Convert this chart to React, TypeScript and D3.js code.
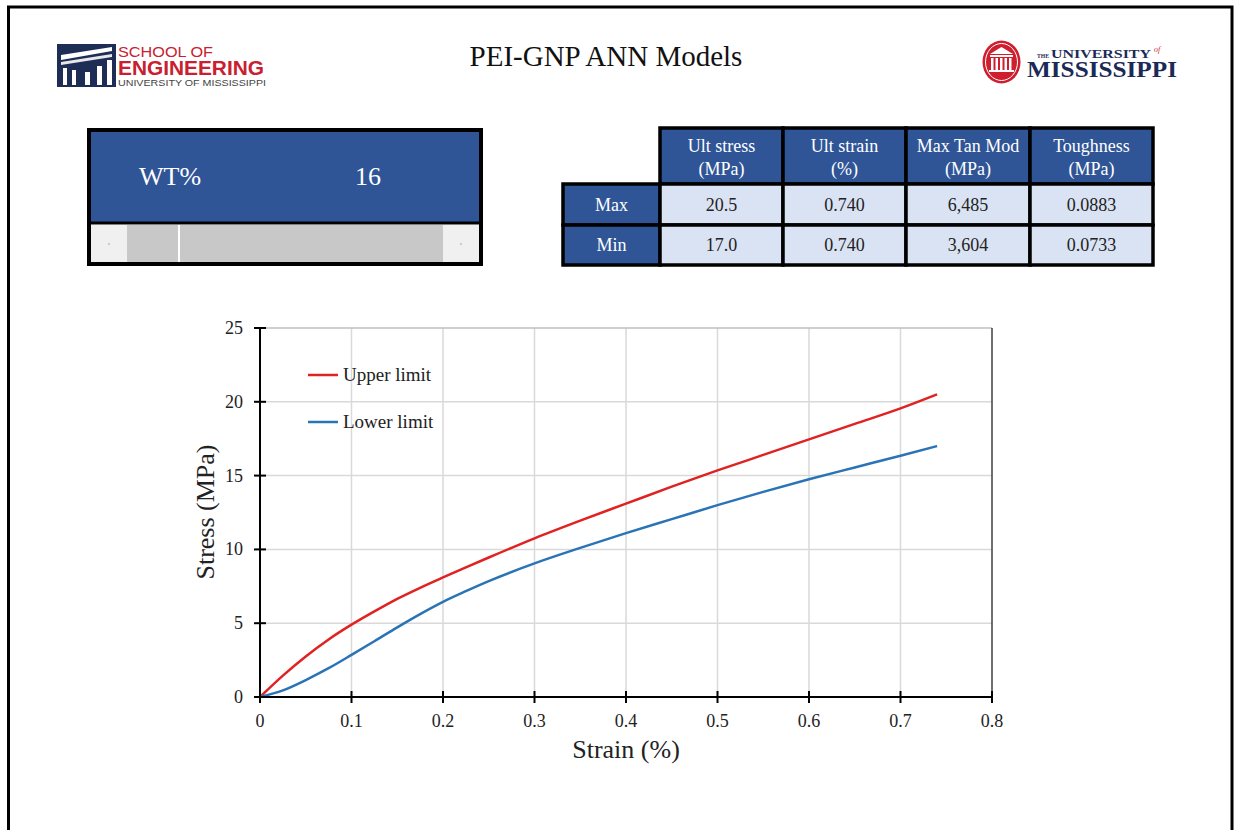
import React from "react";
import * as d3 from "d3";

// ---------- data ----------
const strain = [0, 0.025, 0.05, 0.075, 0.1, 0.125, 0.15, 0.175, 0.2, 0.225, 0.25, 0.3, 0.35, 0.4, 0.45, 0.5, 0.55, 0.6, 0.65, 0.7, 0.74];
const upperStress = [0, 1.45, 2.75, 3.9, 4.9, 5.8, 6.65, 7.4, 8.1, 8.78, 9.45, 10.75, 11.95, 13.1, 14.25, 15.35, 16.4, 17.45, 18.5, 19.55, 20.5];
const lowerStress = [0, 0.45, 1.15, 1.95, 2.85, 3.78, 4.72, 5.62, 6.45, 7.17, 7.85, 9.05, 10.1, 11.1, 12.05, 13.0, 13.9, 14.75, 15.55, 16.35, 17.0];
const seriesNames = ["Upper limit", "Lower limit"];
const xTicks = [0, 0.1, 0.2, 0.3, 0.4, 0.5, 0.6, 0.7, 0.8];
const yTicks = [0, 5, 10, 15, 20, 25];

const tableHeaders = [["Ult stress", "(MPa)"], ["Ult strain", "(%)"], ["Max Tan Mod", "(MPa)"], ["Toughness", "(MPa)"]];
const rowLabels = ["Max", "Min"];
const maxRow = ["20.5", "0.740", "6,485", "0.0883"];
const minRow = ["17.0", "0.740", "3,604", "0.0733"];
const wtLabel = "WT%";
const wtValue = "16";
const title = "PEI-GNP ANN Models";

// ---------- style ----------
const SERIF = "'Liberation Serif', 'Times New Roman', serif";
const SANS = "'Liberation Sans', Arial, sans-serif";
const BLUE_BG = "#2f5597";
const CELL_BG = "#dae3f3";
const RED = "#e02222";
const BLUEL = "#2a74b6";
const NAVY = "#1b2a57";
const OLE_RED = "#cf1f2e";

export default function App() {
  const x = d3.scaleLinear().domain([0, 0.8]).range([260, 992]);
  const y = d3.scaleLinear().domain([0, 25]).range([697, 328]);
  const line = d3
    .line<number>()
    .x((_, i) => x(strain[i]))
    .y((d) => y(d))
    .curve(d3.curveMonotoneX);

  const colEdges = [660, 783, 906, 1030, 1153];
  const rowEdges = [128, 184, 225, 265];
  const labelLeft = 563;
  const rows = [maxRow, minRow];

  return (
    <svg
      width={1234}
      height={830}
      style={{ position: "absolute", left: 0, top: 0, display: "block", background: "#fff" }}
    >
      <rect x={0} y={0} width={1234} height={830} fill="#fff" />
      {/* page frame */}
      <path d="M8.5 830 V7 H1232 V830" fill="none" stroke="#000" strokeWidth={3} />

      {/* left logo */}
      <g>
        <rect x={57} y={44} width={59} height={43} fill="#1d2d55" />
        <polygon points="61,55 112,47 112,51 61,60" fill="#fff" />
        <polygon points="61,62 112,54 112,57 61,65" fill="#e8e8e8" />
        <rect x={63} y={68} width={4} height={17} fill="#fff" />
        <rect x={72} y={70} width={4} height={15} fill="#fff" />
        <rect x={85} y={72} width={5} height={13} fill="#fff" />
        <rect x={97} y={66} width={5} height={19} fill="#fff" />
        <rect x={107} y={60} width={5} height={25} fill="#fff" />
        <text x={118} y={57} fontFamily={SANS} fontSize={14} fill="#c8202f" textLength={95} lengthAdjust="spacingAndGlyphs">SCHOOL OF</text>
        <text x={118} y={75} fontFamily={SANS} fontSize={20} fontWeight="bold" fill="#c8202f" textLength={146} lengthAdjust="spacingAndGlyphs">ENGINEERING</text>
        <text x={118} y={86} fontFamily={SANS} fontSize={9} fill="#444" textLength={148} lengthAdjust="spacingAndGlyphs">UNIVERSITY OF MISSISSIPPI</text>
      </g>

      {/* title */}
      <text x={606} y={66} textAnchor="middle" fontFamily={SERIF} fontSize={29} fill="#111">{title}</text>

      {/* right logo */}
      <g>
        <ellipse cx={1001.5} cy={62} rx={19} ry={21.5} fill={OLE_RED} />
        <ellipse cx={1001.5} cy={62} rx={16} ry={18.5} fill="none" stroke="#fff" strokeWidth={1} />
        <polygon points="990,54 1001.5,47 1013,54" fill="#fff" />
        <rect x={990} y={55} width={23} height={2} fill="#fff" />
        {[991, 995.5, 1000, 1004.5, 1009].map((cx) => (
          <rect key={cx} x={cx} y={58} width={2.5} height={12} fill="#fff" />
        ))}
        <rect x={989} y={70} width={25} height={2} fill="#fff" />
        <text x={1037} y={57.5} fontFamily={SERIF} fontSize={6} fontWeight="bold" fill={NAVY} textLength={12} lengthAdjust="spacingAndGlyphs">THE</text>
        <text x={1051} y={57.5} fontFamily={SERIF} fontSize={13.5} fontWeight="bold" fill={NAVY} textLength={100} lengthAdjust="spacingAndGlyphs">UNIVERSITY</text>
        <text x={1154} y={52} fontFamily={SERIF} fontSize={8} fontStyle="italic" fill={OLE_RED}>of</text>
        <text x={1027} y={77} fontFamily={SERIF} fontSize={24} fontWeight="bold" fill={NAVY} textLength={150} lengthAdjust="spacingAndGlyphs">MISSISSIPPI</text>
      </g>

      {/* WT% control */}
      <g>
        <rect x={89} y={130} width={392} height={134} fill="#fff" stroke="#000" strokeWidth={4} />
        <rect x={91} y={132} width={388} height={90} fill={BLUE_BG} />
        <line x1={89} x2={481} y1={223} y2={223} stroke="#000" strokeWidth={3} />
        <rect x={91} y={225} width={36} height={37} fill="#f0f0f0" />
        <rect x={127} y={225} width={316} height={37} fill="#c8c8c8" />
        <rect x={443} y={225} width={36} height={37} fill="#f0f0f0" />
        <rect x={178} y={225} width={2} height={37} fill="#fff" />
        <circle cx={109} cy={244} r={0.8} fill="#999" />
        <circle cx={461} cy={244} r={0.8} fill="#999" />
        <text x={139} y={185} fontFamily={SERIF} fontSize={26} fill="#fff">{wtLabel}</text>
        <text x={368} y={185} textAnchor="middle" fontFamily={SERIF} fontSize={26} fill="#fff">{wtValue}</text>
      </g>

      {/* results table */}
      <g>
        {tableHeaders.map((h, i) => (
          <g key={"h" + i}>
            <rect x={colEdges[i]} y={rowEdges[0]} width={colEdges[i + 1] - colEdges[i]} height={rowEdges[1] - rowEdges[0]} fill={BLUE_BG} stroke="#000" strokeWidth={3.5} />
            <text x={(colEdges[i] + colEdges[i + 1]) / 2} y={152} textAnchor="middle" fontFamily={SERIF} fontSize={18} fill="#fff">{h[0]}</text>
            <text x={(colEdges[i] + colEdges[i + 1]) / 2} y={175} textAnchor="middle" fontFamily={SERIF} fontSize={18} fill="#fff">{h[1]}</text>
          </g>
        ))}
        {rows.map((r, ri) => (
          <g key={"r" + ri}>
            <rect x={labelLeft} y={rowEdges[ri + 1]} width={colEdges[0] - labelLeft} height={rowEdges[ri + 2] - rowEdges[ri + 1]} fill={BLUE_BG} stroke="#000" strokeWidth={3.5} />
            <text x={(labelLeft + colEdges[0]) / 2} y={(rowEdges[ri + 1] + rowEdges[ri + 2]) / 2 + 6} textAnchor="middle" fontFamily={SERIF} fontSize={18} fill="#fff">{rowLabels[ri]}</text>
            {r.map((v, ci) => (
              <g key={ci}>
                <rect x={colEdges[ci]} y={rowEdges[ri + 1]} width={colEdges[ci + 1] - colEdges[ci]} height={rowEdges[ri + 2] - rowEdges[ri + 1]} fill={CELL_BG} stroke="#000" strokeWidth={3.5} />
                <text x={(colEdges[ci] + colEdges[ci + 1]) / 2} y={(rowEdges[ri + 1] + rowEdges[ri + 2]) / 2 + 6} textAnchor="middle" fontFamily={SERIF} fontSize={18} fill="#222">{v}</text>
              </g>
            ))}
          </g>
        ))}
      </g>

      {/* chart gridlines */}
      <g>
        {xTicks.slice(1, -1).map((t) => (
          <line key={"gx" + t} x1={x(t)} x2={x(t)} y1={y(25)} y2={y(0)} stroke="#d9d9d9" strokeWidth={1.5} />
        ))}
        {yTicks.slice(1).map((t) => (
          <line key={"gy" + t} x1={x(0)} x2={x(0.8)} y1={y(t)} y2={y(t)} stroke={t === 25 ? "#bfbfbf" : "#d9d9d9"} strokeWidth={1.5} />
        ))}
        <line x1={x(0.8)} x2={x(0.8)} y1={y(25)} y2={y(0)} stroke="#404040" strokeWidth={1.5} />
      </g>

      {/* series */}
      <path d={line(upperStress) || ""} fill="none" stroke={RED} strokeWidth={2.5} />
      <path d={line(lowerStress) || ""} fill="none" stroke={BLUEL} strokeWidth={2.5} />

      {/* axes */}
      <g>
        <line x1={x(0)} x2={x(0)} y1={y(25)} y2={y(0)} stroke="#000" strokeWidth={2} />
        <line x1={x(0)} x2={x(0.8)} y1={y(0)} y2={y(0)} stroke="#000" strokeWidth={2} />
        {yTicks.map((t) => (
          <g key={"yt" + t}>
            <line x1={x(0) - 6} x2={x(0) + 6} y1={y(t)} y2={y(t)} stroke="#000" strokeWidth={2} />
            <text x={243} y={y(t) + 6} textAnchor="end" fontFamily={SERIF} fontSize={18} fill="#222">{t}</text>
          </g>
        ))}
        {xTicks.map((t) => (
          <g key={"xt" + t}>
            <line x1={x(t)} x2={x(t)} y1={y(0) - 6} y2={y(0) + 6} stroke="#000" strokeWidth={2} />
            <text x={x(t)} y={727} textAnchor="middle" fontFamily={SERIF} fontSize={18} fill="#222">{String(+t.toFixed(1))}</text>
          </g>
        ))}
        <text transform="translate(214,512) rotate(-90)" textAnchor="middle" fontFamily={SERIF} fontSize={26} fill="#222">Stress (MPa)</text>
        <text x={626} y={758} textAnchor="middle" fontFamily={SERIF} fontSize={26} fill="#222">Strain (%)</text>
      </g>

      {/* legend */}
      <g>
        <line x1={308} x2={338} y1={375} y2={375} stroke={RED} strokeWidth={2.5} />
        <text x={343} y={381} fontFamily={SERIF} fontSize={19} fill="#222">{seriesNames[0]}</text>
        <line x1={308} x2={338} y1={422} y2={422} stroke={BLUEL} strokeWidth={2.5} />
        <text x={343} y={428} fontFamily={SERIF} fontSize={19} fill="#222">{seriesNames[1]}</text>
      </g>
    </svg>
  );
}
